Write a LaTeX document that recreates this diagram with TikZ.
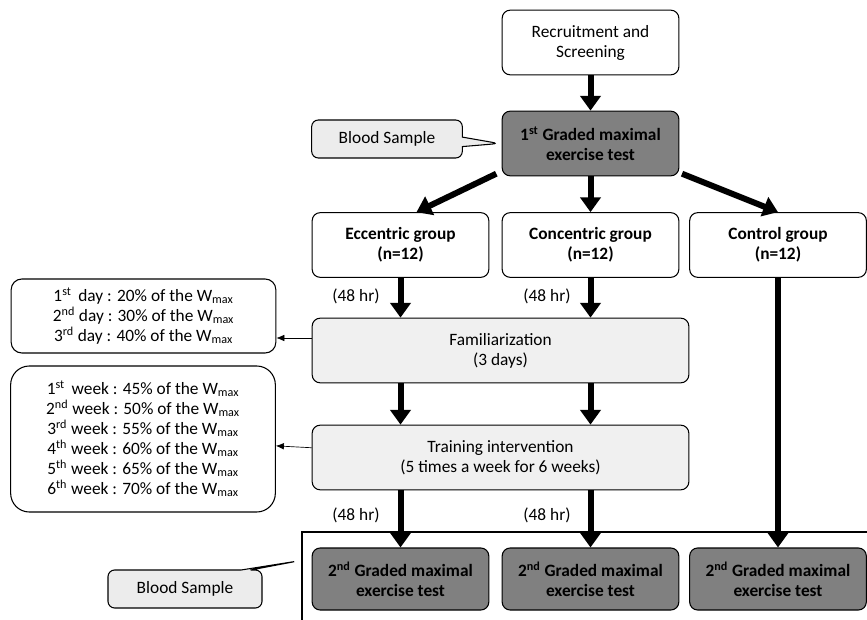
\documentclass[tikz,border=0pt]{standalone}
\usepackage{fontspec}
\setmainfont{Carlito}
\usetikzlibrary{arrows.meta}
\usetikzlibrary{shapes.callouts}

\definecolor{testgray}{RGB}{128,128,128}
\definecolor{stepgray}{RGB}{240,240,240}
\definecolor{notegray}{RGB}{236,236,236}

\begin{document}
\begin{tikzpicture}[x=0.75pt, y=-0.75pt, every node/.style={font=\fontsize{13pt}{15pt}\selectfont}]
			\tikzset{box/.style={shape = rectangle, draw, rounded corners = 6pt, line width = 0.8pt, align = center, minimum width = 132.5pt, minimum height = 48.5pt, inner sep = 2pt}}
			\tikzset{testbox/.style={box, fill = testgray, font = \fontsize{13pt}{15pt}\selectfont\bfseries}}
			\tikzset{groupbox/.style={box, font = \fontsize{13pt}{15pt}\selectfont\bfseries}}
			\tikzset{stepbox/.style={box, fill = stepgray, minimum width = 282.5pt}}
			\tikzset{notebox/.style={box, minimum width = 198.5pt}}
			\tikzset{callbox/.style={rectangle callout, draw, rounded corners = 5pt, line width = 0.8pt, fill = notegray, minimum width = 113pt, minimum height = 28.5pt}}
			\tikzset{edge/.style={-{Triangle[length = 11pt, width = 15pt]}, line width = 4.5pt}}
			\tikzset{thin edge/.style={-{Latex[length = 6pt, width = 5pt]}, line width = 0.5pt}}
			\useasboundingbox (0, 0) rectangle (867, 620);
			%boxes
			\node[box] (rec) at (590.5, 42.5) {Recruitment and\\Screening};
			\node[testbox] (first) at (590.5, 143.5) {1\textsuperscript{st} Graded maximal\\exercise test};
			\node[groupbox] (ecc) at (400.5, 245) {Eccentric group\\(n=12)};
			\node[groupbox] (con) at (590.5, 245) {Concentric group\\(n=12)};
			\node[groupbox] (ctl) at (778, 245) {Control group\\(n=12)};
			\node[stepbox] (fam) at (500.5, 350.5) {Familiarization\\(3 days)};
			\node[stepbox] (train) at (500.5, 457.5) {Training intervention\\(5 times a week for 6 weeks)};
			\node[testbox, minimum height = 46.5pt] (ecc2) at (400.5, 579) {2\textsuperscript{nd} Graded maximal\\exercise test};
			\node[testbox, minimum height = 46.5pt] (con2) at (590.5, 579) {2\textsuperscript{nd} Graded maximal\\exercise test};
			\node[testbox, minimum height = 46.5pt] (ctl2) at (778, 579) {2\textsuperscript{nd} Graded maximal\\exercise test};
			%loads
			\node[notebox, minimum height = 55.5pt, rounded corners = 8pt] (days) at (143.5, 316) {1\textsuperscript{st}\, day : 20\% of the W\textsubscript{max}\\2\textsuperscript{nd} day : 30\% of the W\textsubscript{max}\\3\textsuperscript{rd} day : 40\% of the W\textsubscript{max}};
			\node[notebox, minimum height = 109.5pt, rounded corners = 14pt] (weeks) at (143, 439) {1\textsuperscript{st}\, week : 45\% of the W\textsubscript{max}\\2\textsuperscript{nd} week : 50\% of the W\textsubscript{max}\\3\textsuperscript{rd} week : 55\% of the W\textsubscript{max}\\4\textsuperscript{th} week : 60\% of the W\textsubscript{max}\\5\textsuperscript{th} week : 65\% of the W\textsubscript{max}\\6\textsuperscript{th} week : 70\% of the W\textsubscript{max}};
			%blood samples
			\coordinate (tip) at (298, 561);
			\node[callbox, callout absolute pointer = {([xshift = -2pt]first.west)}] (blood) at (387, 139) {Blood Sample};
			\node[callbox, minimum width = 115.5pt, callout absolute pointer = {(tip)}] (blood2) at (185, 589) {Blood Sample};
			%delays
			\node (d1) at (356, 296) {(48 hr)};
			\node (d2) at (547, 296) {(48 hr)};
			\node (d3) at (356, 515) {(48 hr)};
			\node (d4) at (547, 515) {(48 hr)};
			%edges
			\draw[edge] (rec) -- (first);
			\draw[edge] ([xshift = -4pt, yshift = 2pt]first.south west) -- ([xshift = 12pt]ecc.north);
			\draw[edge] (first) -- (con);
			\draw[edge] ([xshift = 2pt, yshift = 2pt]first.south east) -- (ctl.north);
			\draw[edge] (ecc.south) -- (ecc.south |- fam.north);
			\draw[edge] (con.south) -- (con.south |- fam.north);
			\draw[edge] (ecc.south |- fam.south) -- (ecc.south |- train.north);
			\draw[edge] (con.south |- fam.south) -- (con.south |- train.north);
			\draw[edge] (ecc.south |- train.south) -- (ecc2);
			\draw[edge] (con.south |- train.south) -- (con2);
			\draw[edge] (ctl) -- (ctl2);
			\draw[thin edge] (fam.west |- 0, 338) -- (days.east |- 0, 338);
			\draw[thin edge] (train) -- (weeks);
			%frame
			\draw[line width = 0.8pt] (302, 620) -- (302, 532) -- (867, 532);
\end{tikzpicture}
\end{document}
